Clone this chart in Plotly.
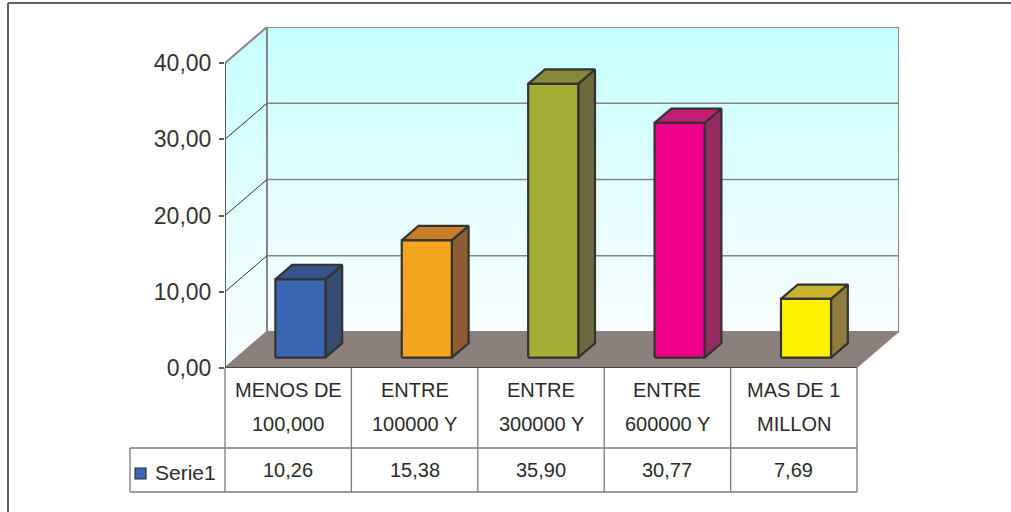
import plotly.graph_objects as go

# ---- data -------------------------------------------------------------
categories = [
    ["MENOS DE", "100,000"],
    ["ENTRE", "100000 Y"],
    ["ENTRE", "300000 Y"],
    ["ENTRE", "600000 Y"],
    ["MAS DE 1", "MILLON"],
]
values = [10.26, 15.38, 35.90, 30.77, 7.69]
series_name = "Serie1"
y_ticks = [0, 10, 20, 30, 40]

# ---- styling ----------------------------------------------------------
front_colors = ["#3A66B2", "#F6A51E", "#A4AD36", "#EC008C", "#FFF100"]
side_colors = ["#354B70", "#8E5D33", "#6A6A3C", "#922B5F", "#8F7C3C"]
top_colors = ["#35528A", "#C77E27", "#858938", "#C11E74", "#C8B32A"]
FONT = "Liberation Sans, Arial, sans-serif"
TEXT = "#2b2b2b"
EDGE = "#333333"
TABLE_FONT = 20

# oblique projection: depth offset expressed in axis units
DEPTH_X = 0.332      # category units
DEPTH_Y = 4.72       # value units
BAR_HALF = 0.198     # half bar width (category units)
BAR_F0, BAR_F1 = 0.29, 0.69   # bar front/back depth fractions
Y_MAX = y_ticks[-1]

n = len(values)
X0, X1 = -0.5, n - 0.5 + DEPTH_X
Y0, Y1 = 0, Y_MAX + DEPTH_Y

W, H = 1011, 512
ML, MT = 225, 27
PW, PH = 674, 341
MR, MB = W - ML - PW, H - MT - PH


def proj(x, y, f):
    return x + f * DEPTH_X, y + f * DEPTH_Y


def poly(pts, fill, line_color, line_width, gradient=None):
    xs = [p[0] for p in pts] + [pts[0][0]]
    ys = [p[1] for p in pts] + [pts[0][1]]
    kw = dict(fillcolor=fill)
    if gradient is not None:
        kw = dict(fillgradient=gradient)
    return go.Scatter(x=xs, y=ys, mode="lines", fill="toself",
                      line=dict(color=line_color, width=line_width),
                      hoverinfo="skip", showlegend=False, **kw)


def seg(p, q, color, width):
    return go.Scatter(x=[p[0], q[0]], y=[p[1], q[1]], mode="lines",
                      line=dict(color=color, width=width),
                      hoverinfo="skip", showlegend=False)


fig = go.Figure()
wall_grad = dict(type="vertical",
                 colorscale=[[0, "#F8FDFF"], [0.5, "#E2FEFF"], [1, "#C4FFFF"]])
WALL_EDGE = "#8C8484"

# back wall
xl, xr = X0, n - 0.5
fig.add_trace(poly([proj(xl, 0, 1), proj(xr, 0, 1), proj(xr, Y_MAX, 1), proj(xl, Y_MAX, 1)],
                   None, WALL_EDGE, 2, wall_grad))
# side wall
fig.add_trace(poly([proj(xl, 0, 0), proj(xl, 0, 1), proj(xl, Y_MAX, 1), proj(xl, Y_MAX, 0)],
                   None, WALL_EDGE, 2, wall_grad))
# gridlines on both walls
for v in y_ticks[1:-1]:
    fig.add_trace(seg(proj(xl, v, 1), proj(xr, v, 1), "#858585", 1.6))
    fig.add_trace(seg(proj(xl, v, 0), proj(xl, v, 1), "#1a1a1a", 0.9))
# value axis line
fig.add_trace(seg(proj(xl, 0, 0), proj(xl, Y_MAX, 0), "#5a5a5a", 2))
# floor
fig.add_trace(poly([proj(xl, 0, 0), proj(xr, 0, 0), proj(xr, 0, 1), proj(xl, 0, 1)],
                   "#8C807C", "rgba(0,0,0,0)", 0))
fig.add_trace(seg(proj(xl, 0, 0), proj(xr, 0, 0), "#444444", 2))

# bars
for i, v in enumerate(values):
    a, b = i - BAR_HALF, i + BAR_HALF
    fl = proj(a, 0, BAR_F0); fr = proj(b, 0, BAR_F0)
    tl = proj(a, v, BAR_F0); tr = proj(b, v, BAR_F0)
    br = proj(b, 0, BAR_F1); btr = proj(b, v, BAR_F1); btl = proj(a, v, BAR_F1)
    fig.add_trace(poly([fr, br, btr, tr], side_colors[i], EDGE, 2.2))
    fig.add_trace(poly([tl, tr, btr, btl], top_colors[i], EDGE, 2.2))
    fig.add_trace(poly([fl, fr, tr, tl], front_colors[i], EDGE, 2.2))

# ---- data table below the floor --------------------------------------
def px_x(xv):
    return (xv - X0) / (X1 - X0)


def py(pix):
    # pixel row -> paper y
    return (MT + PH - pix) / PH


TAB_HEAD_BOTTOM = py(448)
TAB_BOTTOM = py(492)
LEG_LEFT = (130 - ML) / PW
TAB_LINE = dict(color="#7a7a7a", width=1.3)
shapes = []
col_edges = [px_x(i - 0.5) for i in range(n + 1)]
for j, xe in enumerate(col_edges):
    shapes.append(dict(type="line", xref="paper", yref="paper", x0=xe, x1=xe,
                       y0=0, y1=TAB_BOTTOM, line=TAB_LINE))
shapes.append(dict(type="line", xref="paper", yref="paper", x0=LEG_LEFT, x1=col_edges[-1],
                   y0=TAB_HEAD_BOTTOM, y1=TAB_HEAD_BOTTOM, line=TAB_LINE))
shapes.append(dict(type="line", xref="paper", yref="paper", x0=LEG_LEFT, x1=col_edges[-1],
                   y0=TAB_BOTTOM, y1=TAB_BOTTOM, line=TAB_LINE))
shapes.append(dict(type="line", xref="paper", yref="paper", x0=LEG_LEFT, x1=LEG_LEFT,
                   y0=TAB_HEAD_BOTTOM, y1=TAB_BOTTOM, line=TAB_LINE))
# legend key
shapes.append(dict(type="rect", xref="paper", yref="paper",
                   x0=(135 - ML) / PW, x1=(146 - ML) / PW, y0=py(479), y1=py(468),
                   fillcolor=front_colors[0], line=dict(color=EDGE, width=1.2)))
# outer frame (top and left edges)
frame = dict(color="#5f5f5f", width=2)
shapes.append(dict(type="line", xref="paper", yref="paper", x0=(8 - ML) / PW, x1=(W - ML) / PW,
                   y0=py(3), y1=py(3), line=frame))
shapes.append(dict(type="line", xref="paper", yref="paper", x0=(8 - ML) / PW, x1=(8 - ML) / PW,
                   y0=py(3), y1=py(H), line=frame))

annotations = []
for i, (l1, l2) in enumerate(categories):
    for txt, row in ((l1, 390), (l2, 424)):
        annotations.append(dict(x=i, y=py(row), xref="x", yref="paper", text=txt,
                                showarrow=False, xanchor="center", yanchor="middle",
                                font=dict(family=FONT, size=TABLE_FONT, color=TEXT)))
    annotations.append(dict(x=i, y=py(470), xref="x", yref="paper",
                            text=f"{values[i]:.2f}".replace(".", ","),
                            showarrow=False, xanchor="center", yanchor="middle",
                            font=dict(family=FONT, size=TABLE_FONT, color=TEXT)))
annotations.append(dict(x=(153 - ML) / PW, y=py(472), xref="paper", yref="paper",
                        text=series_name, showarrow=False, xanchor="left", yanchor="middle",
                        font=dict(family=FONT, size=TABLE_FONT + 1, color=TEXT)))

fig.update_layout(
    width=W, height=H,
    margin=dict(l=ML, r=MR, t=MT, b=MB, pad=0),
    paper_bgcolor="white", plot_bgcolor="white",
    showlegend=False,
    xaxis=dict(range=[X0, X1], visible=False, fixedrange=True),
    yaxis=dict(range=[Y0, Y1], tickvals=y_ticks,
               ticktext=[f"{t:.2f}".replace(".", ",") for t in y_ticks],
               ticks="outside", ticklen=5, tickwidth=1.5, tickcolor="#5a5a5a",
               ticklabelstandoff=3,
               showgrid=False, zeroline=False, showline=False,
               tickfont=dict(family=FONT, size=23, color="#333333"),
               fixedrange=True),
    shapes=shapes,
    annotations=annotations,
)

fig.write_html("out.html")
